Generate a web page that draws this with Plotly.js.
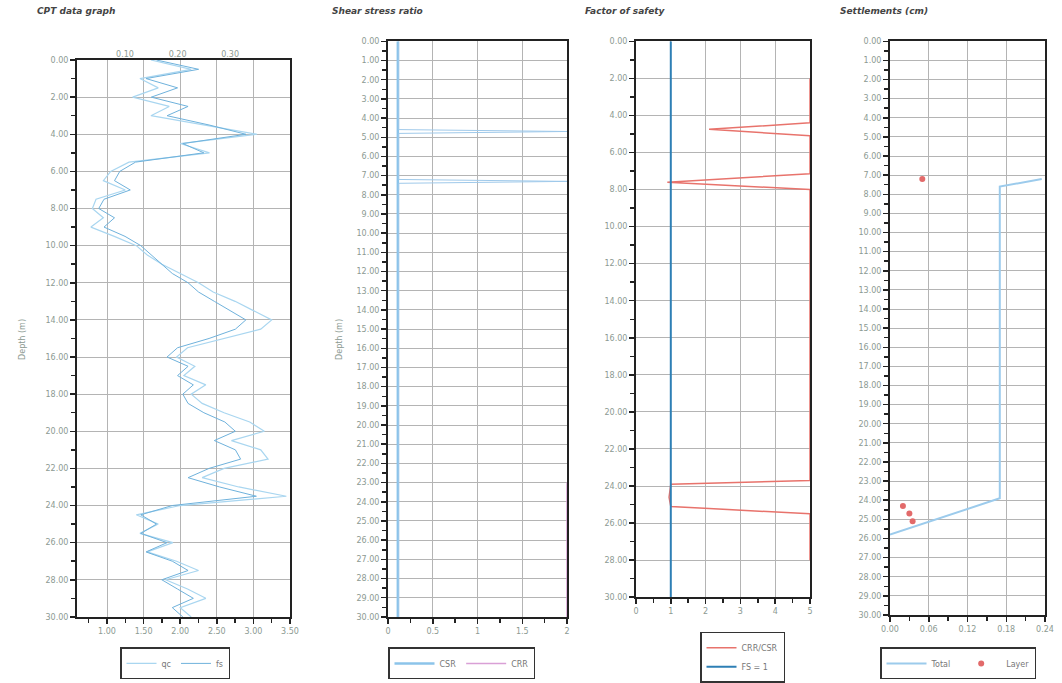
<!DOCTYPE html>
<html>
<head>
<meta charset="utf-8">
<script src="https://cdn.plot.ly/plotly-3.0.1.min.js"></script>
<style>
  html, body { margin: 0; padding: 0; background: #fff; }
  #chart { width: 1062px; height: 683px; }
</style>
</head>
<body>
<div id="chart"></div>
<script>
// ---- CPT profile (depth in m) ----
const cptDepth = [0,0.5,1,1.5,2,2.5,3,3.5,4,4.5,5,5.5,6,6.5,7,7.5,8,8.5,9,9.5,10,10.5,11,11.5,12,12.5,13,13.5,14,14.5,15,15.5,16,16.5,17,17.5,18,18.5,19,19.5,20,20.5,21,21.5,22,22.5,23,23.5,24,24.5,25,25.5,26,26.5,27,27.5,28,28.5,29,29.5,30];
const qcValues = [1.60,2.15,1.45,1.70,1.35,1.85,1.60,2.30,3.05,2.00,2.40,1.30,1.05,0.95,1.25,0.85,0.80,0.95,0.78,1.10,1.40,1.55,1.75,2.00,2.25,2.45,2.75,3.00,3.25,3.10,2.60,2.10,1.95,2.20,2.05,2.35,2.15,2.30,2.60,2.95,3.15,2.70,3.10,3.20,2.60,2.30,2.80,3.45,2.00,1.40,1.70,1.45,1.90,1.55,1.95,2.25,1.80,2.10,2.35,2.00,2.15];
const fsValues = [0.16,0.24,0.14,0.20,0.15,0.22,0.18,0.26,0.33,0.21,0.25,0.12,0.09,0.08,0.11,0.06,0.05,0.08,0.06,0.10,0.13,0.15,0.17,0.19,0.22,0.24,0.27,0.30,0.33,0.31,0.26,0.20,0.18,0.22,0.20,0.23,0.21,0.22,0.25,0.29,0.31,0.27,0.31,0.32,0.26,0.22,0.28,0.35,0.19,0.13,0.16,0.13,0.18,0.14,0.19,0.22,0.17,0.20,0.23,0.19,0.21];
const fsTicks = [0.1, 0.2, 0.3];

// ---- shear stress ratio ----
const csrDepth = [0,30];
const csrValues = [0.11,0.11];
const crrDepth = [0,4.6,4.7,4.8,7.2,7.3,7.4,30];
const crrValues = [0.12,0.12,2.0,0.12,0.12,2.0,0.12,0.12];
const crrCapDepth = [23,30];
const crrCapValues = [2,2];

// ---- factor of safety ----
const fsDepth = [2,4.4,4.75,5.1,7.15,7.6,8.0,23.7,23.9,24.6,25.1,25.5,28];
const fsFactor = [5,5,2.1,5,5,0.9,5,5,1.0,0.95,1.0,5,5];
const fsLimitDepth = [0,30];
const fsLimit = [1,1];

// ---- settlements ----
const setDepth = [25.8,23.9,7.6,7.2];
const setTotal = [0,0.17,0.17,0.235];
const layerDepth = [7.2,24.3,24.7,25.1];
const layerSet = [0.05,0.02,0.03,0.035];

const W = 1062, H = 683;
const px = x => x / W;
const py = y => (H - y) / H;

const FONT = 'DejaVu Sans, sans-serif';
const tickFont = {family: FONT, size: 8, color: '#8c9a92'};
const gridCol = '#b4b4b4';

function yAxis(top, bottom, dtick, extra) {
  return Object.assign({
    domain: [py(bottom), py(top)],
    range: [30, 0],
    dtick: dtick, tick0: 0,
    tickformat: '.2f',
    showgrid: true, gridcolor: gridCol, gridwidth: 1,
    showline: true, linecolor: '#222', linewidth: 2, mirror: true,
    ticks: 'outside', ticklen: 5, tickcolor: '#222', tickwidth: 1.5,
    minor: {dtick: dtick / 2, ticks: 'outside', ticklen: 4, tickcolor: '#222', tickwidth: 1.5, showgrid: false},
    tickfont: tickFont, zeroline: false
  }, extra || {});
}
function xAxis(left, right, range, dtick, fmt, extra) {
  return Object.assign({
    domain: [px(left), px(right)],
    range: range, dtick: dtick,
    tickformat: fmt,
    showgrid: true, gridcolor: gridCol, gridwidth: 1,
    showline: true, linecolor: '#222', linewidth: 2, mirror: true,
    ticks: 'outside', ticklen: 5, tickcolor: '#222', tickwidth: 1.5,
    minor: {dtick: dtick / 2, ticks: 'outside', ticklen: 4, tickcolor: '#222', tickwidth: 1.5, showgrid: false},
    tickfont: tickFont, zeroline: false
  }, extra || {});
}

const traces = [
  {x: qcValues, y: cptDepth, xaxis: 'x', yaxis: 'y', mode: 'lines', name: 'qc',
   line: {color: '#a9d6f0', width: 1.2}, legend: 'legend'},
  {x: fsValues, y: cptDepth, xaxis: 'x5', yaxis: 'y', mode: 'lines', name: 'fs',
   line: {color: '#6fb2dc', width: 1}, legend: 'legend'},

  {x: csrValues, y: csrDepth, xaxis: 'x2', yaxis: 'y2', mode: 'lines', name: 'CSR',
   line: {color: '#8cc4ea', width: 2.5}, legend: 'legend2'},
  {x: crrValues, y: crrDepth, xaxis: 'x2', yaxis: 'y2', mode: 'lines', name: 'CRR',
   line: {color: '#9fc9ea', width: 1}, legend: 'legend2', showlegend: false},
  {x: crrCapValues, y: crrCapDepth, xaxis: 'x2', yaxis: 'y2', mode: 'lines', name: 'CRR',
   line: {color: '#d9a0d6', width: 1.5}, legend: 'legend2'},

  {x: fsFactor, y: fsDepth, xaxis: 'x3', yaxis: 'y3', mode: 'lines', name: 'CRR/CSR',
   line: {color: '#e8736c', width: 1.5}, legend: 'legend3'},
  {x: fsLimit, y: fsLimitDepth, xaxis: 'x3', yaxis: 'y3', mode: 'lines', name: 'FS = 1',
   line: {color: '#2e7fb5', width: 2}, legend: 'legend3'},

  {x: setTotal, y: setDepth, xaxis: 'x4', yaxis: 'y4', mode: 'lines', name: 'Total',
   line: {color: '#9ccbec', width: 2}, legend: 'legend4'},
  {x: layerSet, y: layerDepth, xaxis: 'x4', yaxis: 'y4', mode: 'markers', name: 'Layer',
   marker: {color: '#e26a6a', size: 6, symbol: 'circle'}, legend: 'legend4'}
];

const legendBase = {
  bgcolor: '#fff', bordercolor: '#333', borderwidth: 1.5,
  font: {family: FONT, size: 8, color: '#777'},
  xref: 'paper', yref: 'paper', xanchor: 'left', yanchor: 'top',
  orientation: 'h', itemwidth: 30, tracegroupgap: 2
};

const titleFont = {family: FONT, size: 9, color: '#444', style: 'italic', weight: 'bold'};
const axisTitleFont = {family: FONT, size: 8, color: '#8c9a92'};

const layout = {
  width: W, height: H,
  margin: {l: 0, r: 0, t: 0, b: 0},
  paper_bgcolor: '#fff', plot_bgcolor: '#fff',
  showlegend: true,
  xaxis: xAxis(77, 290, [0.59, 3.50], 0.5, '.2f', {tick0: 1.0, anchor: 'y'}),
  xaxis5: {domain: [px(77), px(290)], range: [0.0086, 0.414], overlaying: 'x', side: 'top', anchor: 'y',
           tickvals: fsTicks, tickformat: '.2f', showgrid: false, showline: false, ticks: '', zeroline: false,
           tickfont: tickFont},
  yaxis: yAxis(61, 627, 2, {anchor: 'x'}),
  xaxis2: xAxis(388, 567, [0, 2], 0.5, '', {anchor: 'y2'}),
  yaxis2: yAxis(42, 627, 1, {anchor: 'x2'}),
  xaxis3: xAxis(636, 810, [0, 5], 1, '', {anchor: 'y3'}),
  yaxis3: yAxis(42, 607, 2, {anchor: 'x3'}),
  xaxis4: xAxis(890, 1045, [0, 0.24], 0.06, '.2f', {anchor: 'y4'}),
  yaxis4: yAxis(42, 625, 1, {anchor: 'x4'}),
  legend: Object.assign({}, legendBase, {x: px(120), y: py(658)}),
  legend2: Object.assign({}, legendBase, {x: px(388), y: py(658), itemwidth: 40}),
  legend3: Object.assign({}, legendBase, {x: px(700), y: py(642), orientation: 'v'}),
  legend4: Object.assign({}, legendBase, {x: px(880), y: py(658), itemwidth: 40}),
  annotations: [
    {text: 'CPT data graph', x: px(35), y: py(11), xref: 'paper', yref: 'paper', xanchor: 'left', yanchor: 'middle', showarrow: false, font: titleFont},
    {text: 'Shear stress ratio', x: px(330), y: py(11), xref: 'paper', yref: 'paper', xanchor: 'left', yanchor: 'middle', showarrow: false, font: titleFont},
    {text: 'Factor of safety', x: px(583), y: py(11), xref: 'paper', yref: 'paper', xanchor: 'left', yanchor: 'middle', showarrow: false, font: titleFont},
    {text: 'Settlements (cm)', x: px(838), y: py(11), xref: 'paper', yref: 'paper', xanchor: 'left', yanchor: 'middle', showarrow: false, font: titleFont},
    {text: 'Depth (m)', x: px(16), y: py(345), xref: 'paper', yref: 'paper', textangle: -90, showarrow: false, font: axisTitleFont},
    {text: 'Depth (m)', x: px(333), y: py(345), xref: 'paper', yref: 'paper', textangle: -90, showarrow: false, font: axisTitleFont}
  ]
};

Plotly.newPlot('chart', traces, layout, {staticPlot: true, displayModeBar: false});
</script>
</body>
</html>
